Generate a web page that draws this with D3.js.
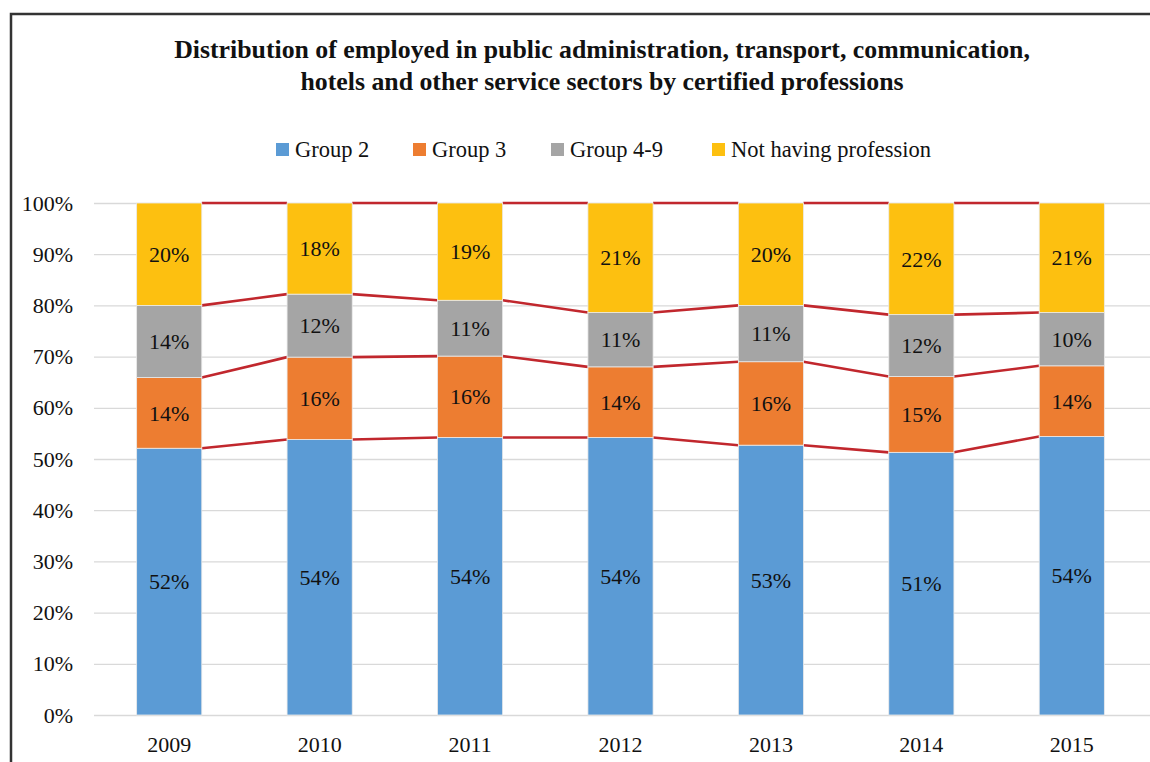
<!DOCTYPE html>
<html>
<head>
<meta charset="utf-8">
<script src="https://cdn.jsdelivr.net/npm/d3@7"></script>
<style>
  body { margin: 0; background: #fff; }
  svg text { font-family: "Liberation Serif", "DejaVu Serif", serif; fill: #111; }
</style>
</head>
<body>
<div class="canvas"></div>
<script>
// values, in percent
var years = ['2009', '2010', '2011', '2012', '2013', '2014', '2015'];
var group2 = [52.1, 53.8, 54.2, 54.2, 52.7, 51.3, 54.4];
var group3 = [13.8, 16.1, 15.9, 13.8, 16.3, 14.8, 13.8];
var group49 = [14.1, 12.3, 10.9, 10.6, 11.0, 12.1, 10.4];
var notHaving = [20.0, 17.8, 19.0, 21.4, 20.0, 21.8, 21.4];

var seriesNames = ['Group 2', 'Group 3', 'Group 4-9', 'Not having profession'];
var colors = ['#5b9bd5', '#ed7d31', '#a5a5a5', '#fdc010'];

var width = 1150, height = 762;

var svg = d3.select('.canvas')
  .append('svg')
    .attr('width', width)
    .attr('height', height);

// frame
svg.append('path')
  .attr('d', 'M11,762 V14 H1150')
  .attr('fill', 'none')
  .attr('stroke', '#333')
  .attr('stroke-width', 2.5);

// title
var title = svg.append('text')
  .attr('text-anchor', 'middle')
  .style('font-size', '25.8px')
  .style('font-weight', 'bold');
title.append('tspan').attr('x', 602).attr('y', 58)
  .text('Distribution of employed in public administration, transport, communication,');
title.append('tspan').attr('x', 602).attr('y', 90)
  .text('hotels and other service sectors by certified professions');

// build stacked table from the arrays
var rows = years.map(function(y, i) {
  return { year: y, s0: group2[i] / 100, s1: group3[i] / 100, s2: group49[i] / 100, s3: notHaving[i] / 100 };
});
var stack = d3.stack().keys(['s0', 's1', 's2', 's3']);
var layers = stack(rows);

var x = d3.scaleBand()
  .domain(years)
  .range([94, 1147])
  .paddingInner(0.567)
  .paddingOuter(0.2835);

var y = d3.scaleLinear()
  .domain([0, 1])
  .range([715, 203]);

// gridlines + y axis
var yAxis = svg.append('g')
  .attr('transform', 'translate(94,0)')
  .call(d3.axisLeft(y)
    .ticks(10)
    .tickFormat(d3.format('.0%'))
    .tickSize(-1056)
    .tickPadding(21));
yAxis.select('.domain').remove();
yAxis.selectAll('line').attr('stroke', '#d9d9d9').attr('stroke-width', 1.3);
yAxis.selectAll('text').style('font-size', '22px').attr('fill', '#111');

// x axis labels
var xAxis = svg.append('g')
  .attr('transform', 'translate(0,715)')
  .call(d3.axisBottom(x).tickSize(0).tickPadding(21));
xAxis.select('.domain').remove();
xAxis.selectAll('text').style('font-size', '22px').attr('fill', '#111');

// series lines between the bars
var levels = layers.map(function(l) { return l.map(function(d) { return d[1]; }); });
var segs = [];
levels.forEach(function(lv) {
  for (var i = 0; i < years.length - 1; i++) {
    segs.push({ x1: x(years[i]) + x.bandwidth(), y1: y(lv[i]), x2: x(years[i + 1]), y2: y(lv[i + 1]) });
  }
});
svg.append('g')
  .selectAll('line')
  .data(segs)
  .enter()
  .append('line')
    .attr('x1', function(d) { return d.x1; })
    .attr('y1', function(d) { return d.y1; })
    .attr('x2', function(d) { return d.x2; })
    .attr('y2', function(d) { return d.y2; })
    .attr('stroke', '#c1272d')
    .attr('stroke-width', 2.6);

// bars
var layer = svg.append('g')
  .selectAll('g')
  .data(layers)
  .enter()
  .append('g')
    .attr('fill', function(d, i) { return colors[i]; });

layer.selectAll('rect')
  .data(function(d) { return d; })
  .enter()
  .append('rect')
    .attr('x', function(d) { return x(d.data.year); })
    .attr('y', function(d) { return y(d[1]); })
    .attr('width', x.bandwidth())
    .attr('height', function(d) { return y(d[0]) - y(d[1]); })
    .attr('stroke', '#eaeaea')
    .attr('stroke-width', 0.8);

// data labels
layer.selectAll('text')
  .data(function(d) { return d; })
  .enter()
  .append('text')
    .attr('x', function(d) { return x(d.data.year) + x.bandwidth() / 2; })
    .attr('y', function(d) { return (y(d[0]) + y(d[1])) / 2; })
    .attr('dy', '0.35em')
    .attr('text-anchor', 'middle')
    .style('font-size', '22px')
    .text(function(d) { return d3.format('.0%')(d[1] - d[0]); });

// legend
var legendX = [276, 413, 551, 712];
var legend = svg.append('g')
  .selectAll('g')
  .data(seriesNames)
  .enter()
  .append('g')
    .attr('transform', function(d, i) { return 'translate(' + legendX[i] + ',143)'; });
legend.append('rect')
  .attr('width', 13)
  .attr('height', 13)
  .attr('fill', function(d, i) { return colors[i]; });
legend.append('text')
  .attr('x', 19)
  .attr('y', 14)
  .style('font-size', '22.5px')
  .text(function(d) { return d; });
</script>
</body>
</html>
